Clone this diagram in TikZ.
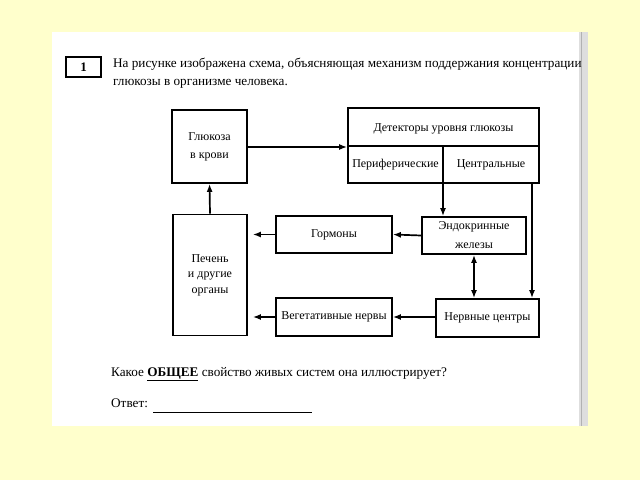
\documentclass[tikz,border=0pt]{standalone}
\usepackage{fontspec}
\setmainfont{Liberation Serif}
\usetikzlibrary{arrows.meta}
\definecolor{bgyellow}{RGB}{255,255,204}
\definecolor{stripgray}{RGB}{222,222,222}
\tikzset{
  box/.style={draw=black, line width=1.7pt, fill=white, inner sep=0pt, align=center, font=\fontsize{12}{15.5}\selectfont},
  lbl/.style={inner sep=0pt, align=center, font=\fontsize{12}{15.5}\selectfont},
  arr/.style={line width=1.7pt, -{Latex[length=8pt,width=6pt]}},
  darr/.style={line width=1.7pt, {Latex[length=8pt,width=6pt]}-{Latex[length=8pt,width=6pt]}},
  txt/.style={inner sep=0pt, anchor=west, font=\fontsize{13.2}{15}\selectfont}
}
\begin{document}
\begin{tikzpicture}[x=1pt,y=-1pt]
\fill[bgyellow] (0,0) rectangle (640,480);
\useasboundingbox (0,0) rectangle (640,480);
\fill[white] (52,32) rectangle (579,426);
\fill[stripgray] (579,32) rectangle (588,426);
\draw[gray!60, line width=0.8pt] (581,32) -- (581,426);

% header
\node[draw, line width=1.2pt, minimum width=35pt, minimum height=20pt, inner sep=0pt, font=\fontsize{13}{15}\selectfont\bfseries] (num) at (83.5,67) {1};
\node[txt] (h1) at (113,64) {На рисунке изображена схема, объясняющая механизм поддержания концентрации};
\node[txt] (h2) at (113,84) {глюкозы в организме человека.};

% boxes
\node[box, minimum width=75pt, minimum height=73pt, font=\fontsize{12}{18}\selectfont] (glu) at (209.5,146.5) {Глюкоза\\в крови};
\node[box, minimum width=191pt, minimum height=75pt] (det) at (443.5,145.5) {};
\draw[line width=1.7pt] (det.west |- 0,146) coordinate (dl) -- (det.east |- 0,146) coordinate (dr);
\coordinate (dv) at (443,183);
\draw[line width=1.7pt] (443,146) -- (dv);
\node[lbl] (dett) at (443.5,128.5) {Детекторы уровня глюкозы};
\node[lbl] (per) at (395.5,164.5) {Периферические};
\node[lbl] (cen) at (491,164.5) {Центральные};
\coordinate (cv) at (532,183);

\node[box, minimum width=74pt, minimum height=121pt] (liv) at (210,275) {Печень\\и другие\\органы};
\node[box, minimum width=116pt, minimum height=37pt] (hor) at (334,234.5) {Гормоны};
\node[box, minimum width=104pt, minimum height=37pt, font=\fontsize{12}{19}\selectfont] (end) at (474,235.5) {Эндокринные\\железы};
\node[box, minimum width=103pt, minimum height=38pt] (ner) at (487.5,318) {Нервные центры};
\node[box, minimum width=116pt, minimum height=38pt] (veg) at (334,317) {Вегетативные нервы};

% connectors
\draw[arr] (glu.east |- 0,147) -- (det.west |- 0,147);
\draw[arr] (dv) -- (dv |- end.north);
\draw[arr] (cv) -- (cv |- ner.north);
\draw[arr] (end.west) -- (hor.east);
\draw[arr, shorten >=5pt] (hor.west) -- (liv.east |- hor.west);
\draw[darr] (end.south) -- (end.south |- ner.north);
\draw[arr] (ner.west |- veg.west) -- (veg.east);
\draw[arr, shorten >=5pt] (veg.west) -- (liv.east |- veg.west);
\draw[arr] (liv.north) -- (glu.south);

% question
\node[txt] (q) at (111,374) {Какое \underline{\textbf{ОБЩЕЕ}} свойство живых систем она иллюстрирует?};
\node[txt] (ans) at (111,403) {Ответ:};
\coordinate (u1) at (153,412);
\coordinate (u2) at (312,412);
\draw[line width=0.8pt] (u1) -- (u2);
\end{tikzpicture}
\end{document}
